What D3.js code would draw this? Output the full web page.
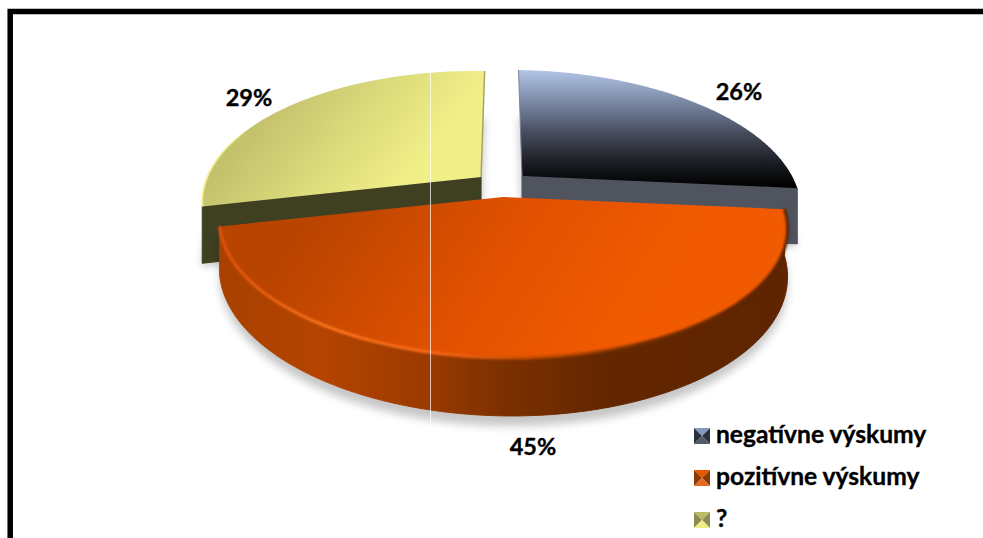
<!DOCTYPE html>
<html>
<head>
<meta charset="utf-8">
<script src="https://cdn.jsdelivr.net/npm/d3@7"></script>
<style>
html, body { margin: 0; padding: 0; background: #fff; overflow: hidden; }
svg { display: block; }
text { font-family: Lato, sans-serif; font-weight: 700; fill: #000; stroke: #000; stroke-width: 0.35px; }
</style>
</head>
<body>
<div id="chart"></div>
<script>
var categories = ['negatívne výskumy', 'pozitívne výskumy', '?'];
var shares = [26, 45, 29];

var width = 983, height = 538;
var cx = 502, tilt = 127.8, persp = 0.206, lean = 4;

// one entry per slice, same order as categories
var sliceX = [0.0735, 0.005, -0.077];
var sliceY = [176, 197, 177];
var sliceR = [272, 278, 272];
var sliceH = [55, 46, 54];
var labelPos = [[739, 100], [533, 455], [249, 106]];
var wallFill = ['#50545f', 'url(#wall1)', '#3f3f22'];
var topFill = ['url(#top0)', 'url(#top1)', 'url(#top2)'];

var svg = d3.select('#chart').append('svg')
    .attr('width', width)
    .attr('height', height);

var defs = svg.append('defs');

function gradient(id, x1, y1, x2, y2, stops) {
    var g = defs.append('linearGradient')
        .attr('id', id)
        .attr('gradientUnits', 'userSpaceOnUse')
        .attr('x1', x1).attr('y1', y1)
        .attr('x2', x2).attr('y2', y2);
    stops.forEach(function(s) {
        g.append('stop').attr('offset', s[0]).attr('stop-color', s[1]).attr('stop-opacity', s[2] === undefined ? 1 : s[2]);
    });
}

gradient('top0', 0, 70, 0, 187, [[0, '#b2c6e6'], [0.3, '#75829e'], [0.55, '#444a5a'], [0.8, '#1a1c22'], [1, '#000']]);
gradient('top1', 330, 190, 600, 370, [[0, '#b94400'], [0.55, '#e25100'], [1, '#f15a00']]);
gradient('top2', 270, 110, 390, 205, [[0, '#c5c26e'], [0.55, '#dedd7c'], [1, '#f1ef88']]);
gradient('wall1', 218, 0, 790, 0, [[0, '#a84000'], [0.18, '#b54400'], [0.36, '#9c3a00'], [0.5, '#7c3000'], [0.68, '#632600'], [1, '#5e2500']]);
gradient('rim1', 218, 0, 790, 0, [[0, '#e0520a'], [0.2, '#ff761c'], [0.38, '#f9681a'], [0.55, '#c04a00'], [0.75, '#7a3000'], [1, '#5e2500']]);
gradient('rim2', 200, 0, 270, 0, [[0, '#f4f290', 1], [1, '#f4f290', 0]]);

defs.append('filter').attr('id', 'soft').attr('x', '-10%').attr('y', '-10%').attr('width', '120%').attr('height', '120%')
    .append('feGaussianBlur').attr('stdDeviation', 4);
defs.append('filter').attr('id', 'edge').attr('x', '-5%').attr('y', '-5%').attr('width', '110%').attr('height', '110%')
    .append('feGaussianBlur').attr('stdDeviation', 0.9);

// frame, runs off the right and bottom of the page
svg.append('rect')
    .attr('x', 10.2).attr('y', 11.5)
    .attr('width', width + 40).attr('height', height + 40)
    .attr('fill', 'none')
    .attr('stroke', '#000')
    .attr('stroke-width', 5.5);

var pie = d3.pie().sort(null).value(function(d) { return d; });
var arcs = pie(shares);

// perspective view of a point on slice i, r and a in pie terms, h is drop below the top face
function project(i, a, r, h) {
    var X = r * Math.sin(a), Z = r * Math.cos(a);
    var w = 1 + persp * Z;
    return [
        cx + sliceR[i] * (X + sliceX[i]) / w,
        sliceY[i] + (-tilt * Z + lean * X + h) / w
    ];
}

function rimPoints(i, from, to, h) {
    var n = Math.ceil(Math.abs(to - from) / 0.01);
    return d3.range(n + 1).map(function(k) {
        return project(i, from + (to - from) * k / n, 1, h);
    });
}

var line = d3.line();

function topPath(i, h) {
    var d = arcs[i];
    return line([project(i, 0, 0, h)].concat(rimPoints(i, d.startAngle, d.endAngle, h))) + 'Z';
}

function wallPath(i) {
    var d = arcs[i], h = sliceH[i];
    if (i === 1) {
        return line(rimPoints(i, d.startAngle, d.endAngle, 0)
            .concat(rimPoints(i, d.endAngle, d.startAngle, h))) + 'Z';
    }
    var edge = i === 0 ? d.endAngle : d.startAngle;
    return line([project(i, 0, 0, 0), project(i, edge, 1, 0), project(i, edge, 1, h), project(i, 0, 0, h)]) + 'Z';
}

// draw back slices first, the front slice sits over them
[0, 2, 1].forEach(function(i) {
    var g = svg.append('g').attr('class', 'slice');
    var d = arcs[i];

    g.append('path')
        .attr('d', i === 1 ? line(rimPoints(i, d.startAngle, d.endAngle, 0)
            .concat(rimPoints(i, d.endAngle, d.startAngle, sliceH[i] + 8))) + 'Z' : topPath(i, sliceH[i] + 3))
        .attr('fill', '#000')
        .attr('opacity', 0.22)
        .attr('filter', 'url(#soft)');

    g.append('path')
        .attr('d', wallPath(i))
        .attr('fill', wallFill[i])
        .attr('stroke', wallFill[i])
        .attr('stroke-width', 1)
        .attr('stroke-linejoin', 'round');

    g.append('path')
        .attr('d', topPath(i, 0))
        .attr('fill', topFill[i]);

    if (i === 1) {
        g.append('path')
            .attr('d', line(rimPoints(i, d.startAngle, d.endAngle, 0)))
            .attr('fill', 'none')
            .attr('stroke', 'url(#rim1)')
            .attr('stroke-width', 3)
            .attr('filter', 'url(#edge)');
    }
    if (i === 2) {
        g.append('path')
            .attr('d', line(rimPoints(i, d.startAngle, d.startAngle + 0.6, 0)))
            .attr('fill', 'none')
            .attr('stroke', 'url(#rim2)')
            .attr('stroke-width', 2);
        g.append('path')
            .attr('d', line([project(i, 0, 0, 0), project(i, d.endAngle, 1, 0)]))
            .attr('stroke', '#a2a25c')
            .attr('stroke-width', 1.4);
    }
    if (i === 0) {
        g.append('path')
            .attr('d', line([project(i, 0, 0, 0), project(i, d.startAngle, 1, 0)]))
            .attr('stroke', '#79829a')
            .attr('stroke-width', 1);
    }
});

// thin light seam through the picture
svg.append('line')
    .attr('x1', 430.5).attr('x2', 430.5)
    .attr('y1', 72).attr('y2', 424)
    .attr('stroke', '#fff')
    .attr('stroke-opacity', 0.7)
    .attr('stroke-width', 1);

svg.selectAll('text.pct')
    .data(shares)
    .enter().append('text')
    .attr('class', 'pct')
    .attr('x', function(d, i) { return labelPos[i][0]; })
    .attr('y', function(d, i) { return labelPos[i][1]; })
    .attr('text-anchor', 'middle')
    .attr('font-size', 23.5)
    .text(function(d) { return d + '%'; });

// legend
var legendY = d3.scalePoint().domain(categories).range([443, 527]);
var swatchTones = [
    ['#8299c2', '#2c303b', '#525a6a'],
    ['#e65800', '#8c3a00', '#e56a22'],
    ['#bdbb68', '#8b8b52', '#eeee84']
];

var legend = svg.selectAll('g.legend')
    .data(categories)
    .enter().append('g')
    .attr('class', 'legend')
    .attr('transform', function(d) { return 'translate(694,' + (legendY(d) - 15) + ')'; });

legend.each(function(d, i) {
    var g = d3.select(this), s = 16, m = s / 2, tone = swatchTones[i];
    var faces = [
        [[[0, 0], [s, 0], [m, m]], tone[0]],
        [[[0, 0], [0, s], [m, m]], tone[1]],
        [[[s, 0], [s, s], [m, m]], tone[1]],
        [[[0, s], [s, s], [m, m]], tone[2]]
    ];
    g.selectAll('path')
        .data(faces)
        .enter().append('path')
        .attr('d', function(f) { return line(f[0]) + 'Z'; })
        .attr('fill', function(f) { return f[1]; });
});

legend.append('text')
    .attr('x', 22)
    .attr('y', 15)
    .attr('font-size', 24.6)
    .text(function(d) { return d; });
</script>
</body>
</html>
